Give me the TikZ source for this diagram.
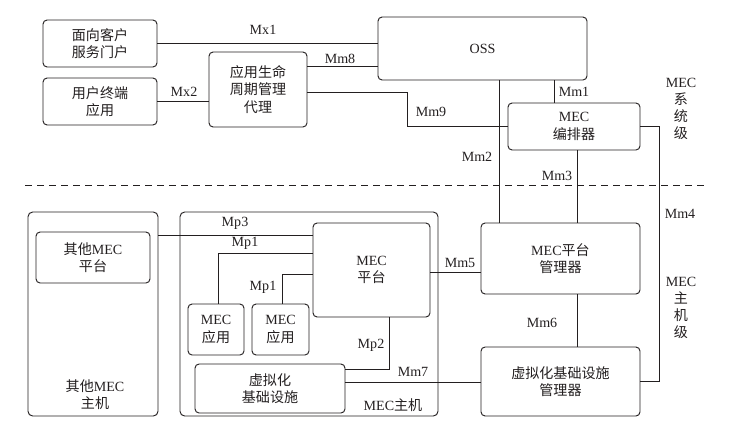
\documentclass[tikz,border=0pt]{standalone}
\usepackage{fontspec}
\setmainfont{Liberation Serif}
\newfontfamily\cjk{Noto Sans CJK SC}
\newcommand{\zh}[1]{{\cjk #1}}
\usetikzlibrary{positioning, calc}
\definecolor{linegray}{RGB}{35, 31, 32}

\begin{document}
\begin{tikzpicture}[
    box/.style={draw=linegray, line width=0.8pt, fill=white, align=center, rounded corners=3.5pt, inner sep=0pt, text=linegray, font=\fontsize{12}{15}\selectfont},
    hostbox/.style={draw=linegray, line width=0.8pt, rounded corners=4pt, inner sep=0pt},
    link/.style={draw=linegray, line width=0.6pt},
    lbl/.style={inner sep=1pt, align=center, text=linegray, font=\fontsize{12}{14.5}\selectfont}
]
    \useasboundingbox (0,0) rectangle (22.17,-12.81);

    % System level
    \node[box, minimum width=3.42cm, minimum height=1.41cm] (portal) at (3.00,-1.305) {\zh{面向客户}\\\zh{服务门户}};
    \node[box, minimum width=3.42cm, minimum height=1.41cm] (ueapp) at (3.00,-3.045) {\zh{用户终端}\\\zh{应用}};
    \node[box, minimum width=2.94cm, minimum height=2.25cm] (lcmproxy) at (7.74,-2.685) {\zh{应用生命}\\\zh{周期管理}\\\zh{代理}};
    \node[box, minimum width=6.27cm, minimum height=1.89cm] (oss) at (14.475,-1.455) {OSS};
    \node[box, minimum width=3.96cm, minimum height=1.41cm] (orch) at (17.22,-3.795) {MEC\\\zh{编排器}};

    % Host level
    \node[hostbox, minimum width=3.9cm, minimum height=6.12cm] (otherhost) at (2.79,-9.42) {};
    \node[hostbox, minimum width=7.74cm, minimum height=6.12cm] (host) at (9.27,-9.42) {};
    \node[box, minimum width=3.42cm, minimum height=1.53cm] (otherplat) at (2.79,-7.725) {\zh{其他}MEC\\\zh{平台}};
    \node[box, minimum width=3.51cm, minimum height=2.82cm] (mep) at (11.145,-8.10) {MEC\\\zh{平台}};
    \node[box, minimum width=1.68cm, minimum height=1.53cm] (app1) at (6.48,-9.885) {MEC\\\zh{应用}};
    \node[box, minimum width=1.71cm, minimum height=1.53cm] (app2) at (8.415,-9.885) {MEC\\\zh{应用}};
    \node[box, minimum width=4.5cm, minimum height=1.47cm] (nfvi) at (8.10,-11.655) {\zh{虚拟化}\\\zh{基础设施}};
    \node[box, minimum width=4.77cm, minimum height=2.13cm] (mepm) at (16.815,-7.755) {MEC\zh{平台}\\\zh{管理器}};
    \node[box, minimum width=4.77cm, minimum height=2.07cm] (vim) at (16.815,-11.445) {\zh{虚拟化基础设施}\\\zh{管理器}};

    % Level separator
    \coordinate (sepw) at (0.75,-5.55);
    \coordinate (sepe) at (21.15,-5.55);
    \draw[link, dash pattern=on 0.21cm off 0.15cm] (sepw) -- (sepe);

    % Reference points, system level
    \draw[link] (portal.east) -- (portal.east -| oss.west);
    \draw[link] (ueapp.east) -- (ueapp.east -| lcmproxy.west);
    \draw[link] ([yshift=0.705cm]lcmproxy.east) -- ([yshift=0.705cm]lcmproxy.east -| oss.west);
    \draw[link] ([yshift=-0.075cm]lcmproxy.east) -- ++(3.0,0) |- (orch.west);
    \draw[link] ([xshift=-0.6cm]orch.north) -- ([xshift=-0.6cm]orch.north |- oss.south);
    \draw[link] ([xshift=-1.845cm]mepm.north) -- ([xshift=-1.845cm]mepm.north |- oss.south);
    \draw[link] ([xshift=0.09cm]orch.south) -- ([xshift=0.09cm]orch.south |- mepm.north);
    \draw[link] (orch.east) -- ++(0.57,0) |- (vim.east);

    % Reference points, host level
    \draw[link] ([yshift=2.37cm]otherhost.east) -- ([yshift=2.37cm]otherhost.east -| mep.west);
    \draw[link] ([yshift=0.51cm]mep.west) -| ([xshift=0.06cm]app1.north);
    \draw[link] ([yshift=-0.13cm]mep.west) -| ([xshift=0.045cm]app2.north);
    \draw[link] ([xshift=0.525cm]mep.south) |- ([yshift=0.585cm]nfvi.east);
    \draw[link] ([yshift=-0.06cm]mep.east) -- ([yshift=-0.06cm]mep.east -| mepm.west);
    \draw[link] ([yshift=0.195cm]nfvi.east) -- ([yshift=0.195cm]nfvi.east -| vim.west);
    \draw[link] ([xshift=0.495cm]mepm.south) -- ([xshift=0.495cm]mepm.south |- vim.north);

    % Labels
    \node[lbl] (lmx1) at (7.89,-0.90) {Mx1};
    \node[lbl] (lmm8) at (10.20,-1.77) {Mm8};
    \node[lbl] (lmx2) at (5.52,-2.76) {Mx2};
    \node[lbl] (lmm9) at (12.93,-3.36) {Mm9};
    \node[lbl] (lmm1) at (17.22,-2.76) {Mm1};
    \node[lbl] (lmm2) at (14.31,-4.71) {Mm2};
    \node[lbl] (lmm3) at (16.71,-5.28) {Mm3};
    \node[lbl] (lmm4) at (20.40,-6.42) {Mm4};
    \node[lbl] (lmm5) at (13.80,-7.89) {Mm5};
    \node[lbl] (lmm6) at (16.26,-9.69) {Mm6};
    \node[lbl] (lmm7) at (12.39,-11.16) {Mm7};
    \node[lbl] (lmp3) at (7.05,-6.69) {Mp3};
    \node[lbl] (lmp1a) at (7.35,-7.29) {Mp1};
    \node[lbl] (lmp1b) at (7.89,-8.61) {Mp1};
    \node[lbl] (lmp2) at (11.13,-10.35) {Mp2};
    \node[lbl] (lhost) at (11.79,-12.15) {MEC\zh{主机}};
    \node[lbl] (lotherhost) at (2.85,-11.85) {\zh{其他}MEC\\\zh{主机}};
    \node[lbl] (lsyslevel) at (20.43,-3.27) {MEC\\\zh{系}\\\zh{统}\\\zh{级}};
    \node[lbl] (lhostlevel) at (20.43,-9.24) {MEC\\\zh{主}\\\zh{机}\\\zh{级}};
\end{tikzpicture}
\end{document}
